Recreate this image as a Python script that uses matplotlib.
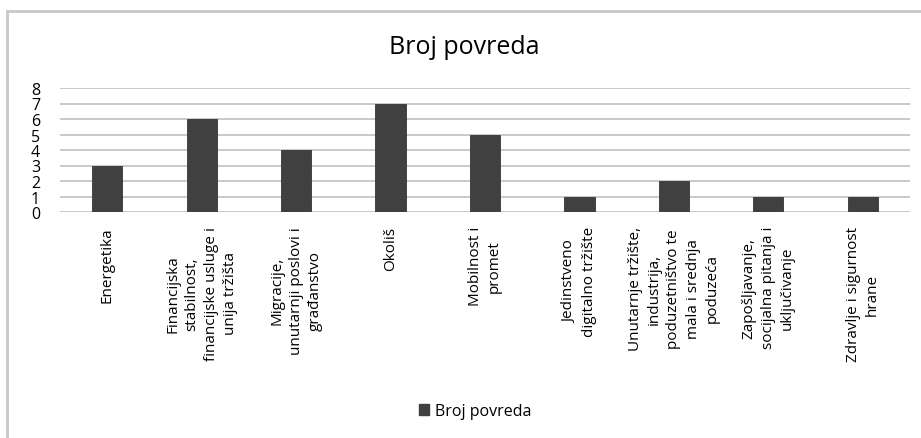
import matplotlib
matplotlib.use("Agg")
import matplotlib.pyplot as plt
from matplotlib.patches import Rectangle

categories = [
    "Energetika",
    "Financijska\nstabilnost,\nfinancijske usluge i\nunija tržišta",
    "Migracije,\nunutarnji poslovi i\ngrađanstvo",
    "Okoliš",
    "Mobilnost i\npromet",
    "Jedinstveno\ndigitalno tržište",
    "Unutarnje tržište,\nindustrija,\npoduzetništvo te\nmala i srednja\npoduzeća",
    "Zapošljavanje,\nsocijalna pitanja i\nuključivanje",
    "Zdravlje i sigurnost\nhrane",
]
values = [3, 6, 4, 7, 5, 1, 2, 1, 1]
yticks = [0, 1, 2, 3, 4, 5, 6, 7, 8]
series_name = "Broj povreda"

plt.rcParams['font.family'] = ['Open Sans', 'DejaVu Sans']

W, H = 921, 439
fig = plt.figure(figsize=(W / 100, H / 100), dpi=100)

# outer frame (left and top edges visible)
fig.patches.append(Rectangle((7 / W, -0.1), 1.2, (H - 12) / H + 0.1,
                             transform=fig.transFigure, fill=False,
                             edgecolor='#c8c8c8', linewidth=2))

ax_left, ax_right = 60 / W, 910 / W
ax_bottom, ax_top = 1 - 213 / H, 1 - 89 / H
ax = fig.add_axes([ax_left, ax_bottom, ax_right - ax_left, ax_top - ax_bottom])

x = list(range(len(categories)))
ax.bar(x, values, width=0.32, color='#404040', edgecolor='#353535',
       linewidth=0.6, zorder=3, label=series_name)
ax.set_xlim(-0.5, len(categories) - 0.5)
ax.set_ylim(0, 8)
ax.set_yticks(yticks)
ax.set_yticklabels([str(v) for v in yticks], fontsize=11.5)
ax.yaxis.grid(True, color='#c0c0c0', linewidth=1.2, zorder=0)
ax.set_axisbelow(True)
for s in ax.spines.values():
    s.set_visible(False)
ax.tick_params(axis='y', length=0, pad=21)
ax.tick_params(axis='x', length=0, pad=10)
for lbl in ax.get_yticklabels():
    lbl.set_horizontalalignment('left')
ax.set_xticks(x)
ax.set_xticklabels(categories, rotation=90, fontsize=11, ha='center',
                   va='top', multialignment='center', linespacing=1.4)

fig.text(0.5 + 4 / W, 1 - 48 / H, "Broj povreda", ha='center', va='center', fontsize=18)

handle = Rectangle((0, 0), 1, 1, color='#404040')
fig.legend([handle], [series_name], loc='center', bbox_to_anchor=(475 / W, 1 - 412 / H),
           frameon=False, fontsize=11.5, handlelength=0.65, handleheight=0.65,
           handletextpad=0.35)

fig.savefig("out.png", dpi=100)
